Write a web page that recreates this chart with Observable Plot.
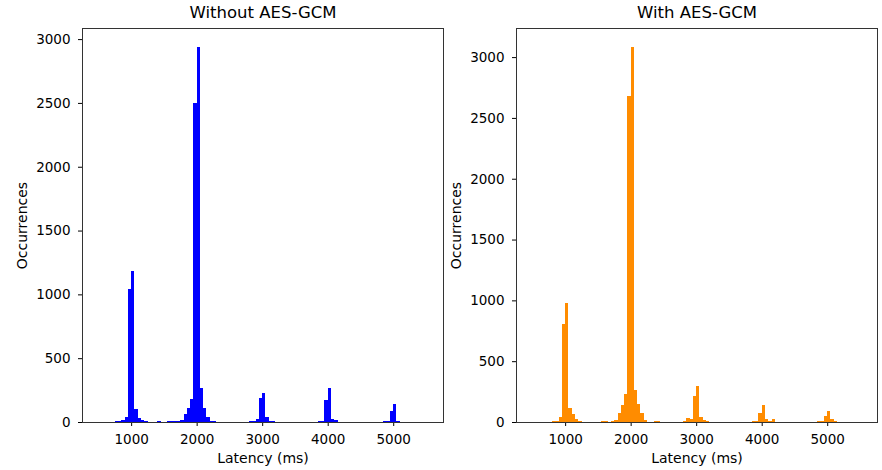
<!DOCTYPE html>
<html>
<head>
<meta charset="utf-8">
<script src="https://cdn.jsdelivr.net/npm/d3@7"></script>
<script src="https://cdn.jsdelivr.net/npm/@observablehq/plot@0.6"></script>
<style>
  html, body { margin: 0; padding: 0; background: #fff; }
  #wrap { position: relative; width: 882px; height: 470px; overflow: hidden; }
  #left, #right { position: absolute; top: 0; }
  #left { left: 0; }
  #right { left: 445px; }
</style>
</head>
<body>
<div id="wrap"><div id="left"></div><div id="right"></div></div>
<script>
// Histogram bins: 50 ms wide, start of each bin (ms) and count
const binWidth = 50;
const xTicks = [1000, 2000, 3000, 4000, 5000];
const yTicks = [0, 500, 1000, 1500, 2000, 2500, 3000];

const withoutTitle = "Without AES-GCM";
const withoutStarts = [750, 800, 850, 900, 950, 1000, 1050, 1100, 1150, 1200, 1400,
  1550, 1600, 1650, 1700, 1750, 1800, 1850, 1900, 1950, 2000, 2050, 2100, 2150, 2200, 2250,
  2800, 2850, 2900, 2950, 3000, 3050, 3100, 3150,
  3850, 3900, 3950, 4000, 4050, 4100,
  4850, 4900, 4950, 5000, 5050];
const withoutCounts = [5, 8, 12, 40, 1040, 1180, 105, 35, 15, 8, 5,
  4, 5, 6, 8, 12, 60, 107, 177, 2500, 2940, 268, 107, 42, 10, 6,
  5, 8, 25, 185, 224, 40, 10, 6,
  5, 10, 172, 268, 20, 18,
  4, 6, 83, 138, 10];

const withTitle = "With AES-GCM";
const withStarts = [800, 850, 900, 950, 1000, 1050, 1100, 1150, 1200,
  1550, 1600, 1700, 1750, 1800, 1850, 1900, 1950, 2000, 2050, 2100, 2150, 2200, 2350, 2400,
  2800, 2850, 2900, 2950, 3000, 3050, 3100, 3150,
  3850, 3900, 3950, 4000, 4050, 4100, 4150,
  4850, 4900, 4950, 5000, 5050, 5100];
const withCounts = [5, 8, 44, 808, 977, 112, 68, 27, 11,
  5, 6, 8, 14, 76, 140, 232, 2680, 3085, 262, 150, 72, 20, 8, 8,
  6, 35, 25, 213, 295, 44, 14, 8,
  6, 10, 71, 137, 27, 8, 22,
  6, 10, 49, 87, 22, 10];

function panel(starts, counts, fill, title, width, marginLeft, marginRight) {
  const data = starts.map((s, i) => ({x1: s, x2: s + binWidth, y: counts[i]}));
  const ymax = d3.max(counts) * 1.05;
  return Plot.plot({
    width, height: 470,
    marginLeft, marginRight, marginTop: 28, marginBottom: 48,
    style: {fontFamily: "DejaVu Sans", fontSize: "13.5px", color: "#000", background: "#fff"},
    x: {domain: [250, 5760], ticks: xTicks, tickFormat: d => String(d), tickSize: 4, tickPadding: 8, label: null},
    y: {domain: [0, ymax], ticks: yTicks, tickFormat: d => String(d), tickSize: 4, tickPadding: 8, label: null},
    marks: [
      Plot.rectY(data, {x1: "x1", x2: "x2", y: "y", fill, insetLeft: 0, insetRight: 0, shapeRendering: "crispEdges"}),
      Plot.frame({stroke: "#333", strokeWidth: 1}),
      Plot.text([title], {frameAnchor: "top", lineAnchor: "middle", dy: -16, fontSize: 16.5, fill: "#000"}),
      Plot.text(["Latency (ms)"], {frameAnchor: "bottom", lineAnchor: "middle", dy: 36, fontSize: 14, fill: "#000"}),
      Plot.text(["Occurrences"], {frameAnchor: "left", textAnchor: "middle", lineAnchor: "middle", dx: -60, rotate: -90, fontSize: 14, fill: "#000"})
    ]
  });
}

document.getElementById("left").appendChild(panel(withoutStarts, withoutCounts, "#0000ff", withoutTitle, 445, 82, 2));
document.getElementById("right").appendChild(panel(withStarts, withCounts, "#ff8c00", withTitle, 437, 71, 5));
</script>
</body>
</html>
